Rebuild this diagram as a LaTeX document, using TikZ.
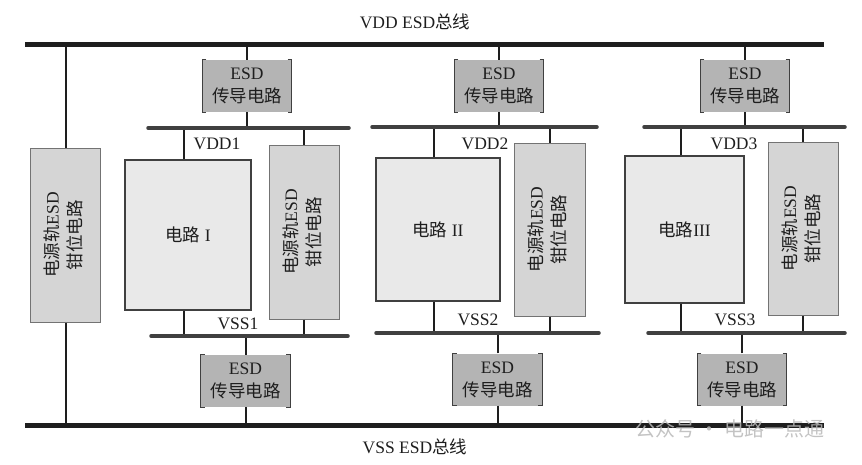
\documentclass[tikz,border=0pt]{standalone}
\usepackage{fontspec}
\usepackage{graphicx}
\setmainfont{Liberation Serif}
\newfontfamily\cjk{Noto Sans CJK SC}
\usetikzlibrary{positioning,calc}
\definecolor{esdgray}{HTML}{B4B4B4}
\definecolor{clampgray}{HTML}{D5D5D5}
\definecolor{cirgray}{HTML}{E9E9E9}
\definecolor{inkgray}{HTML}{1E1E1E}
\newcommand{\labfont}{\fontsize{17.5}{23}\selectfont}
\newcommand{\clamptext}{\rotatebox{90}{\begin{tabular}{@{}c@{}}{\cjk 电源轨}ESD\\{\cjk 钳位电路}\end{tabular}}}
\newcommand{\esdtext}{ESD\\{\cjk 传导电路}}
\tikzset{
  mainbus/.style={line width=5pt, inkgray},
  subbus/.style={line width=3.5pt, black!75, line cap=round},
  wire/.style={line width=2pt, inkgray},
  esdbox/.style={fill=esdgray, minimum width=89pt, minimum height=52pt, inner sep=0pt, align=center, text=inkgray, font=\labfont},
  cirbox/.style={draw=black!75, line width=1.2pt, fill=cirgray, inner sep=0pt, text=inkgray, font=\labfont},
  clampbox/.style={draw=black!55, line width=1pt, fill=clampgray, minimum width=70pt, minimum height=174pt, inner sep=0pt, text=inkgray, font=\labfont},
  bracket/.style={line width=1.3pt, black!75},
  railtag/.style={font=\labfont, text=inkgray, inner sep=0pt}
}

\begin{document}
\begin{tikzpicture}[x=1pt, y=-1pt]
  \useasboundingbox (0,0) rectangle (862,464);
  % global ESD buses
  \coordinate (vddL) at (25,44);
  \coordinate (vddR) at (824,44);
  \coordinate (vssL) at (25,425);
  \coordinate (vssR) at (824,425);
  % local power rails
  \coordinate (vdd1L) at (148,128);
  \coordinate (vdd1R) at (349,128);
  \coordinate (vss1L) at (151,336);
  \coordinate (vss1R) at (348,336);
  \coordinate (vdd2L) at (372,127);
  \coordinate (vdd2R) at (597,127);
  \coordinate (vss2L) at (376,333);
  \coordinate (vss2R) at (599,333);
  \coordinate (vdd3L) at (644,127);
  \coordinate (vdd3R) at (845,127);
  \coordinate (vss3L) at (648,333);
  \coordinate (vss3R) at (845,333);

  \node[railtag] (vddtitle) at (415,22) {VDD ESD{\cjk 总线}};
  \node[railtag] (vsstitle) at (415,447) {VSS ESD{\cjk 总线}};

  \node[clampbox] (clamp0) at (65.5,235) {\clamptext};

  \node[esdbox] (esdT1) at (247,86) {\esdtext};
  \node[cirbox, minimum width=126pt, minimum height=150pt] (cir1) at (188,235) {{\cjk 电路} I};
  \node[clampbox] (clamp1) at (304,232) {\clamptext};
  \node[esdbox] (esdB1) at (245.5,381) {\esdtext};

  \node[esdbox] (esdT2) at (499,86) {\esdtext};
  \node[cirbox, minimum width=124pt, minimum height=143pt] (cir2) at (438,229.5) {{\cjk 电路} II};
  \node[clampbox, minimum width=71pt, minimum height=173pt] (clamp2) at (549.5,229.5) {\clamptext};
  \node[esdbox] (esdB2) at (497.5,379.5) {\esdtext};

  \node[esdbox] (esdT3) at (745,86) {\esdtext};
  \node[cirbox, minimum width=119pt, minimum height=147pt] (cir3) at (684.5,229.5) {{\cjk 电路}III};
  \node[clampbox, minimum height=173pt] (clamp3) at (803,228.5) {\clamptext};
  \node[esdbox] (esdB3) at (742,379.5) {\esdtext};

  \node[railtag] (vdd1tag) at (217,144) {VDD1};
  \node[railtag] (vss1tag) at (238,324) {VSS1};
  \node[railtag] (vdd2tag) at (485,144) {VDD2};
  \node[railtag] (vss2tag) at (478,320) {VSS2};
  \node[railtag] (vdd3tag) at (734,144) {VDD3};
  \node[railtag] (vss3tag) at (735,320) {VSS3};

  % brackets on the conduction boxes
  \foreach \b in {esdT1,esdB1,esdT2,esdB2,esdT3,esdB3} {
    \draw[bracket] ([xshift=4pt]\b.north west) -- (\b.north west) -- (\b.south west) -- ([xshift=4pt]\b.south west);
    \draw[bracket] ([xshift=-4pt]\b.north east) -- (\b.north east) -- (\b.south east) -- ([xshift=-4pt]\b.south east);
  }

  % wires
  \draw[wire] (clamp0.north) -- (clamp0.north |- vddL);
  \draw[wire] (clamp0.south) -- (clamp0.south |- vssL);
  \foreach \i in {1,2,3} {
    \draw[wire] (esdT\i.north) -- (esdT\i.north |- vddL);
    \draw[wire] (esdT\i.south) -- (esdT\i.south |- vdd\i L);
    \draw[wire] ([xshift=-4pt]cir\i.north) -- ([xshift=-4pt]cir\i.north |- vdd\i L);
    \draw[wire] ([xshift=-4pt]cir\i.south) -- ([xshift=-4pt]cir\i.south |- vss\i L);
    \draw[wire] (clamp\i.north) -- (clamp\i.north |- vdd\i L);
    \draw[wire] (clamp\i.south) -- (clamp\i.south |- vss\i L);
    \draw[wire] (esdB\i.north) -- (esdB\i.north |- vss\i L);
    \draw[wire] (esdB\i.south) -- (esdB\i.south |- vssL);
    \draw[subbus] (vdd\i L) -- (vdd\i R);
    \draw[subbus] (vss\i L) -- (vss\i R);
  }

  \draw[mainbus] (vddL) -- (vddR);
  \draw[mainbus] (vssL) -- (vssR);

  \node[text=gray!55, opacity=0.85, font=\fontsize{20}{22}\selectfont\cjk] (mark) at (730,429) {公众号 · 电路一点通};
\end{tikzpicture}
\end{document}
